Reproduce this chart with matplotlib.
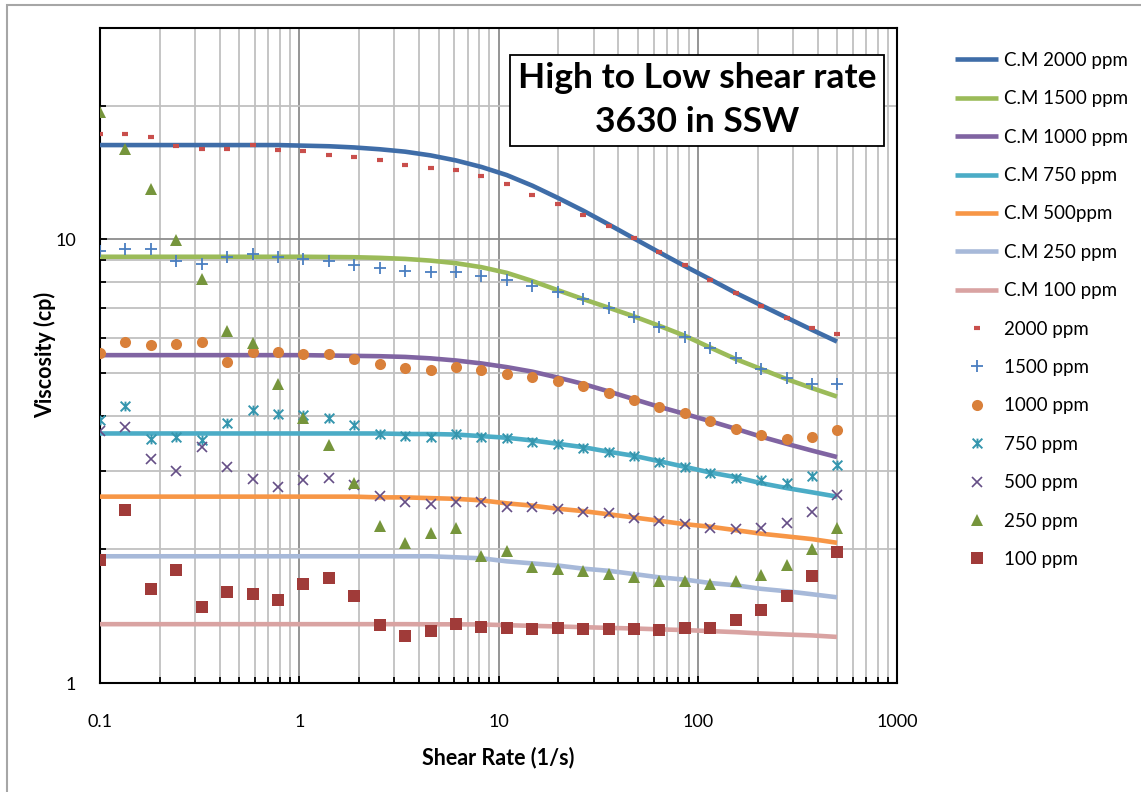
import numpy as np
import matplotlib
matplotlib.use("Agg")
import matplotlib.pyplot as plt
from matplotlib.path import Path
from matplotlib.patches import Rectangle
from matplotlib.ticker import LogLocator, NullFormatter, FixedLocator, FixedFormatter

plt.rcParams['font.family'] = ['Lato', 'DejaVu Sans']

# shear rates (1/s)
shear = [0.1, 0.134, 0.18, 0.241, 0.324, 0.434, 0.583, 0.782, 1.05, 1.41,
         1.89, 2.53, 3.40, 4.56, 6.12, 8.21, 11.0, 14.8, 19.8, 26.6,
         35.7, 47.9, 64.2, 86.1, 115.6, 155.0, 208, 279, 374, 500]

# measured viscosity (cp)
v2000 = [17.3, 17.3, 17.0, 16.2, 15.96, 16.0, 16.3, 15.9, 15.8, 15.5,
         15.3, 15.05, 14.7, 14.5, 14.3, 13.9, 13.3, 12.6, 12.0, 11.36,
         10.7, 10.04, 9.35, 8.73, 8.10, 7.57, 7.06, 6.66, 6.32, 6.12]
v1500 = [9.40, 9.51, 9.51, 8.93, 8.80, 9.14, 9.27, 9.11, 9.03, 8.93,
         8.75, 8.61, 8.46, 8.43, 8.43, 8.25, 8.10, 7.84, 7.60, 7.34,
         7.01, 6.68, 6.34, 6.02, 5.70, 5.40, 5.11, 4.86, 4.73, 4.72]
v1000 = [5.55, 5.87, 5.79, 5.82, 5.87, 5.29, 5.58, 5.58, 5.50, 5.50,
         5.37, 5.23, 5.12, 5.07, 5.16, 5.07, 4.98, 4.90, 4.79, 4.66,
         4.51, 4.35, 4.19, 4.05, 3.89, 3.74, 3.62, 3.55, 3.58, 3.72]
v750 = [3.92, 4.20, 3.55, 3.58, 3.53, 3.85, 4.12, 4.04, 4.02, 3.95,
        3.82, 3.64, 3.61, 3.58, 3.64, 3.59, 3.56, 3.50, 3.46, 3.39,
        3.32, 3.24, 3.14, 3.06, 2.97, 2.90, 2.86, 2.83, 2.93, 3.10]
v500 = [3.70, 3.78, 3.19, 3.01, 3.41, 3.06, 2.88, 2.77, 2.87, 2.90,
        2.80, 2.64, 2.56, 2.53, 2.56, 2.56, 2.49, 2.49, 2.47, 2.43,
        2.41, 2.36, 2.32, 2.28, 2.24, 2.22, 2.23, 2.29, 2.43, 2.65]
v250 = [19.4, 16.0, 13.0, 9.97, 8.14, 6.21, 5.85, 4.73, 3.95, 3.44,
        2.82, 2.26, 2.07, 2.18, 2.24, 1.93, 1.98, 1.83, 1.81, 1.79,
        1.76, 1.73, 1.70, 1.70, 1.67, 1.70, 1.75, 1.84, 2.00, 2.23]
v100 = [1.89, 2.46, 1.63, 1.80, 1.48, 1.60, 1.59, 1.54, 1.67, 1.72,
        1.57, 1.35, 1.275, 1.31, 1.355, 1.34, 1.33, 1.32, 1.33, 1.32,
        1.325, 1.32, 1.315, 1.33, 1.33, 1.385, 1.46, 1.57, 1.74, 1.97]

# model curves (C.M) at the same shear rates
cm2000 = [16.3, 16.3, 16.3, 16.3, 16.3, 16.3, 16.3, 16.3, 16.25, 16.2,
          16.1, 15.95, 15.75, 15.45, 15.05, 14.55, 13.95, 13.2, 12.4, 11.6,
          10.8, 10.04, 9.34, 8.70, 8.12, 7.57, 7.10, 6.66, 6.25, 5.88]
cm1500 = [9.13, 9.13, 9.13, 9.13, 9.13, 9.13, 9.13, 9.13, 9.13, 9.12,
          9.11, 9.08, 9.03, 8.95, 8.83, 8.65, 8.40, 8.05, 7.68, 7.33,
          7.01, 6.70, 6.38, 6.06, 5.70, 5.37, 5.10, 4.84, 4.62, 4.42]
cm1000 = [5.48, 5.48, 5.48, 5.48, 5.48, 5.48, 5.48, 5.48, 5.48, 5.47,
          5.46, 5.45, 5.43, 5.39, 5.33, 5.25, 5.15, 5.03, 4.88, 4.72,
          4.54, 4.36, 4.19, 4.04, 3.89, 3.74, 3.59, 3.46, 3.34, 3.23]
cm750 = [3.65, 3.65, 3.65, 3.65, 3.65, 3.65, 3.65, 3.65, 3.65, 3.65,
         3.65, 3.65, 3.64, 3.64, 3.63, 3.60, 3.57, 3.52, 3.46, 3.40,
         3.32, 3.25, 3.16, 3.07, 2.98, 2.91, 2.82, 2.75, 2.69, 2.63]
cm500 = [2.63, 2.63, 2.63, 2.63, 2.63, 2.63, 2.63, 2.63, 2.63, 2.63,
         2.63, 2.62, 2.62, 2.61, 2.60, 2.58, 2.54, 2.51, 2.47, 2.44,
         2.40, 2.36, 2.32, 2.28, 2.25, 2.21, 2.17, 2.14, 2.11, 2.07]
cm250 = [1.93, 1.93, 1.93, 1.93, 1.93, 1.93, 1.93, 1.93, 1.93, 1.93,
         1.93, 1.93, 1.93, 1.93, 1.92, 1.91, 1.88, 1.86, 1.84, 1.81,
         1.79, 1.76, 1.73, 1.71, 1.68, 1.66, 1.63, 1.61, 1.585, 1.56]
cm100 = [1.357, 1.357, 1.357, 1.357, 1.357, 1.357, 1.357, 1.357, 1.357, 1.357,
         1.357, 1.357, 1.357, 1.356, 1.356, 1.355, 1.35, 1.345, 1.341, 1.336,
         1.331, 1.327, 1.321, 1.316, 1.309, 1.302, 1.293, 1.286, 1.28, 1.27]

fig = plt.figure(figsize=(11.41, 7.92), dpi=100)
ax = fig.add_axes([100/1141, 1-683/792, 797/1141, 655.5/792])

# grey frame around the chart area
fig.patches.append(Rectangle((7/1141, -0.05), 1.2, 1.05-5/792, transform=fig.transFigure,
                             fill=False, ec='#a6a6a6', lw=1.5))

lw = 3.3
lines = [
    (cm2000, '#3F6DA8', 'C.M 2000 ppm'),
    (cm1500, '#9BBB59', 'C.M 1500 ppm'),
    (cm1000, '#8064A2', 'C.M 1000 ppm'),
    (cm750, '#4BACC6', 'C.M 750 ppm'),
    (cm500, '#F79646', 'C.M 500ppm'),
    (cm250, '#A7B9D9', 'C.M 250 ppm'),
    (cm100, '#D9A3A2', 'C.M 100 ppm'),
]
handles = []
for y, c, lab in lines:
    h, = ax.plot(shear, y, color=c, lw=lw, solid_capstyle='butt', label=lab, zorder=3)
    handles.append(h)

star = Path([(-1, -1), (1, 1), (-1, 1), (1, -1), (0, -1), (0, 1)],
            [Path.MOVETO, Path.LINETO, Path.MOVETO, Path.LINETO, Path.MOVETO, Path.LINETO])

pts = [
    (v2000, dict(marker='_', ms=5, mew=3, color='#C94F4C'), '2000 ppm'),
    (v1500, dict(marker='+', ms=9, mew=1.3, color='#4A7EC0'), '1500 ppm'),
    (v1000, dict(marker='o', ms=8, mew=0, color='#D9803A'), '1000 ppm'),
    (v750, dict(marker=star, ms=7, mew=1.4, color='#3596AE', fillstyle='none'), '750 ppm'),
    (v500, dict(marker='x', ms=7, mew=1.2, color='#654E86'), '500 ppm'),
    (v250, dict(marker='^', ms=9, mew=0, color='#76953C'), '250 ppm'),
    (v100, dict(marker='s', ms=8, mew=0, color='#A03B39'), '100 ppm'),
]
for y, kw, lab in pts:
    h, = ax.plot(shear, y, ls='none', label=lab, zorder=4, **kw)
    handles.append(h)

ax.set_xscale('log')
ax.set_yscale('log')
ax.set_xlim(0.1, 1000)
ax.set_ylim(1, 30)

ax.xaxis.set_major_locator(FixedLocator([0.1, 1, 10, 100, 1000]))
ax.xaxis.set_major_formatter(FixedFormatter(['0.1', '1', '10', '100', '1000']))
ax.xaxis.set_minor_locator(LogLocator(base=10, subs=np.arange(2, 10)))
ax.xaxis.set_minor_formatter(NullFormatter())
ax.yaxis.set_major_locator(FixedLocator([1, 10]))
ax.yaxis.set_major_formatter(FixedFormatter(['1', '10']))
ax.yaxis.set_minor_locator(LogLocator(base=10, subs=np.arange(2, 10)))
ax.yaxis.set_minor_formatter(NullFormatter())

ax.grid(True, which='major', color='#8c8c8c', lw=1.3, zorder=0)
ax.grid(True, which='minor', color='#c0c0c0', lw=1.3, zorder=0)
ax.set_axisbelow(True)
for s in ax.spines.values():
    s.set_linewidth(1.5)
    s.set_color('black')
ax.tick_params(axis='both', which='both', direction='in', color='black', width=1.3)
ax.tick_params(axis='both', which='major', length=5, labelsize=13)
ax.tick_params(axis='both', which='minor', length=4)
ax.tick_params(axis='x', which='both', pad=22)
ax.tick_params(axis='y', which='both', pad=17)

ax.set_xlabel('Shear Rate (1/s)', fontsize=15.5, fontweight='bold', labelpad=12)
ax.set_ylabel('Viscosity (cp)', fontsize=15.5, fontweight='bold', labelpad=0)

ax.text(0.749, 0.889, 'High to Low shear rate\n3630 in SSW', transform=ax.transAxes,
        ha='center', va='center', fontsize=25.5, fontweight='bold', linespacing=1.45,
        bbox=dict(boxstyle='square,pad=0.22', fc='white', ec='black', lw=1.3), zorder=6)

fig.legend(handles=handles, loc='upper left', bbox_to_anchor=(955/1141, 1-52/792),
           frameon=False, fontsize=13.5, handlelength=2.3, handletextpad=0.3,
           labelspacing=1.14, borderaxespad=0, borderpad=0)

fig.savefig('out.png', dpi=100)
